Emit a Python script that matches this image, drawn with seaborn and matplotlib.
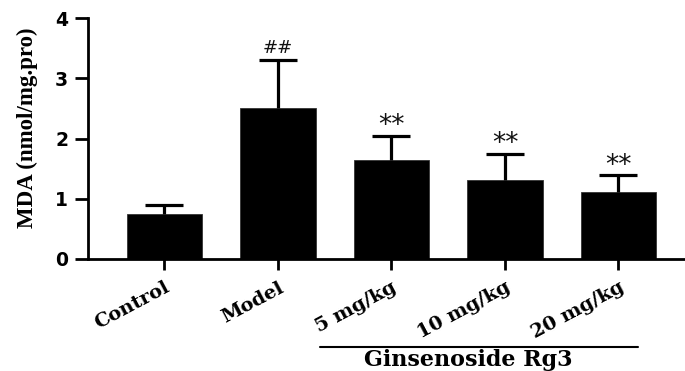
import matplotlib
matplotlib.use("Agg")
import matplotlib.pyplot as plt
import matplotlib.transforms as mtransforms
import seaborn as sns
import numpy as np
import pandas as pd

# ---- data ----
groups = ["Control", "Model", "5 mg/kg", "10 mg/kg", "20 mg/kg"]
mda_mean = [0.74, 2.51, 1.65, 1.32, 1.11]
mda_sd = [0.15, 0.79, 0.40, 0.43, 0.28]
signif = ["", "##", "**", "**", "**"]
y_ticks = [0, 1, 2, 3, 4]
ylabel = "MDA (nmol/mg.pro)"
group_label = "Ginsenoside Rg3"
group_members = ["5 mg/kg", "10 mg/kg", "20 mg/kg"]

df = pd.DataFrame({"group": groups, "mda": mda_mean})

sns.set_style("ticks")
plt.rcParams["font.family"] = ["DejaVu Sans"]
plt.rcParams["text.color"] = "black"
plt.rcParams["axes.labelcolor"] = "black"
plt.rcParams["xtick.color"] = "black"
plt.rcParams["ytick.color"] = "black"
plt.rcParams["axes.edgecolor"] = "black"

fig = plt.figure(figsize=(6.85, 3.71), dpi=100)
ax = fig.add_axes([0.1289, 0.3019, 0.8711, 0.6488])

sns.barplot(data=df, x="group", y="mda", color="black", saturation=1,
            width=0.666, errorbar=None, edgecolor="#333333", linewidth=0.6,
            ax=ax, zorder=2)

pos = np.arange(len(groups))
eb = ax.errorbar(pos, mda_mean, yerr=[np.zeros(len(groups)), mda_sd],
                 fmt="none", ecolor="black", elinewidth=2.3, capsize=13.5,
                 capthick=2.3, zorder=3)
# hide lower caps (only upper error shown)
eb[1][0].set_visible(False)

# significance marks
for x, m, s, lab in zip(pos, mda_mean, mda_sd, signif):
    if not lab:
        continue
    if lab.startswith("#"):
        ax.annotate(lab, (x, m + s), xytext=(0, 5), textcoords="offset points",
                    ha="center", va="baseline", fontsize=13,
                    family="DejaVu Sans", color="#111111")
    else:
        ax.annotate(lab, (x, m + s), xytext=(0, 2), textcoords="offset points",
                    ha="center", va="baseline", fontsize=19,
                    family="DejaVu Sans", color="#111111")

ax.set_xlim(-0.671, 4.586)
ax.set_ylim(0, 4)
ax.set_yticks(y_ticks)
ax.set_yticklabels([str(t) for t in y_ticks], fontsize=13.5,
                   fontweight="bold", family="DejaVu Sans")
ax.set_xlabel("")
ax.set_ylabel(ylabel, fontsize=16.5, fontweight="bold",
              family="Liberation Serif")
ax.yaxis.set_label_coords(-0.0843, 0.544)

sns.despine(ax=ax)
for sp in ("left", "bottom"):
    ax.spines[sp].set_linewidth(2)
ax.tick_params(axis="y", length=9.4, width=2, pad=5)
ax.tick_params(axis="x", length=8, width=2, pad=6)

offset = mtransforms.ScaledTranslation(0, 0, fig.dpi_scale_trans)
for lbl in ax.get_xticklabels():
    lbl.set_rotation(28)
    lbl.set_ha("right")
    lbl.set_va("top")
    lbl.set_rotation_mode("anchor")
    lbl.set_fontsize(14)
    lbl.set_fontweight("bold")
    lbl.set_family("DejaVu Serif")
    lbl.set_transform(lbl.get_transform() + offset)

# group bracket under Rg3 doses
i0 = groups.index(group_members[0])
i1 = groups.index(group_members[-1])
trans = mtransforms.blended_transform_factory(ax.transData, ax.transAxes)
ax.plot([i0 - 0.63, i1 + 0.17], [-0.366, -0.366], color="black", lw=1.5,
        transform=trans, clip_on=False)
ax.text((i0 + i1) / 2 - 0.32, -0.373, group_label, transform=trans,
        ha="center", va="top", fontsize=16, fontweight="bold",
        family="DejaVu Serif")

fig.savefig("out.png", dpi=100, facecolor="white")
